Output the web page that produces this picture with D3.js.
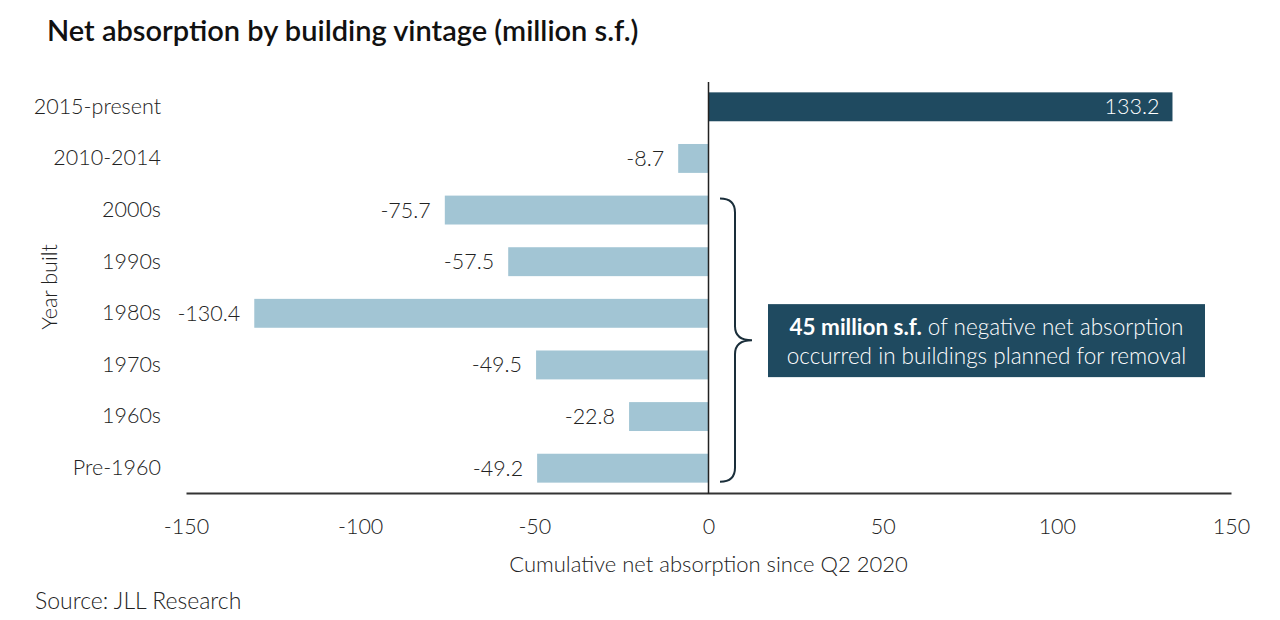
<!DOCTYPE html>
<html>
<head>
<meta charset="utf-8">
<script src="https://cdn.jsdelivr.net/npm/d3@7"></script>
<style>
  body { margin: 0; background: #fff; }
  svg text { font-family: "Lato", "Source Sans Pro", sans-serif; }
</style>
</head>
<body>
<div id="chart"></div>
<script>
// Data
const categories = ["2015-present", "2010-2014", "2000s", "1990s", "1980s", "1970s", "1960s", "Pre-1960"];
const values = [133.2, -8.7, -75.7, -57.5, -130.4, -49.5, -22.8, -49.2];
const xTicks = [-150, -100, -50, 0, 50, 100, 150];
// categories covered by the brace annotation
const braceFrom = "2000s";
const braceTo = "Pre-1960";

const width = 1280, height = 620;
const darkBlue = "#1f4a60";
const lightBlue = "#a2c5d4";
const textColor = "#222";
const fs = "21.5px";

const svg = d3.select("#chart")
  .append("svg")
  .attr("width", width)
  .attr("height", height);

// scales
const x = d3.scaleLinear()
  .domain([-150, 150])
  .range([186, 1231]);

const y = d3.scaleBand()
  .domain(categories)
  .range([81, 494])
  .paddingInner(0.44)
  .paddingOuter(0.22);

// title
svg.append("text")
  .attr("x", 47)
  .attr("y", 41)
  .text("Net absorption by building vintage (million s.f.)")
  .style("fill", "#111")
  .style("font-size", "29px")
  .style("font-weight", 600);

// bars
svg.append("g")
  .selectAll("rect")
  .data(values)
  .enter()
  .append("rect")
  .attr("x", d => x(Math.min(0, d)))
  .attr("y", (d, i) => y(categories[i]))
  .attr("width", d => Math.abs(x(d) - x(0)))
  .attr("height", y.bandwidth())
  .style("fill", d => d > 0 ? darkBlue : lightBlue);

// value labels
svg.append("g")
  .selectAll("text")
  .data(values)
  .enter()
  .append("text")
  .attr("x", d => d > 0 ? x(d) - 13 : x(d) - 14)
  .attr("y", (d, i) => y(categories[i]) + y.bandwidth() / 2)
  .attr("dy", "0.35em")
  .attr("text-anchor", "end")
  .text(d => d.toFixed(1))
  .style("fill", d => d > 0 ? "#fff" : textColor)
  .style("font-size", fs)
  .style("font-weight", 300);

// x axis
const xAxis = svg.append("g")
  .attr("transform", `translate(0, 493)`)
  .call(d3.axisBottom(x).tickValues(xTicks).tickSize(0).tickPadding(26).tickFormat(d => String(d)));
xAxis.select(".domain").attr("stroke", "#333").attr("stroke-width", 2);
xAxis.selectAll("text")
  .style("font-size", fs)
  .style("font-weight", 300)
  .style("fill", textColor);

// y axis (category labels)
const yAxis = svg.append("g")
  .attr("transform", "translate(186, 0)")
  .call(d3.axisLeft(y).tickSize(0).tickPadding(25));
yAxis.select(".domain").remove();
yAxis.selectAll("text")
  .style("font-size", fs)
  .style("font-weight", 300)
  .style("fill", textColor);

// zero line
svg.append("line")
  .attr("x1", x(0))
  .attr("x2", x(0))
  .attr("y1", 82)
  .attr("y2", 494)
  .style("stroke", "#222")
  .style("stroke-width", 1.5);

// axis titles
svg.append("text")
  .attr("text-anchor", "middle")
  .attr("x", x(0))
  .attr("y", 572)
  .text("Cumulative net absorption since Q2 2020")
  .style("fill", textColor)
  .style("font-size", "22px")
  .style("font-weight", 300);

svg.append("text")
  .attr("text-anchor", "middle")
  .attr("transform", "rotate(-90)")
  .attr("x", -287)
  .attr("y", 57)
  .text("Year built")
  .style("fill", textColor)
  .style("font-size", fs)
  .style("font-weight", 300);

// source
svg.append("text")
  .attr("x", 35)
  .attr("y", 609)
  .text("Source: JLL Research")
  .style("fill", textColor)
  .style("font-size", "23px")
  .style("font-weight", 300);

// brace
const bTop = y(braceFrom) + 3;
const bBot = y(braceTo) + y.bandwidth() - 1;
const bMid = (bTop + bBot) / 2;
const x0 = 720, x1 = 735, x2 = 752, r = 14;
svg.append("path")
  .attr("d", `M${x0},${bTop} Q${x1},${bTop} ${x1},${bTop + r} L${x1},${bMid - r} Q${x1},${bMid} ${x2},${bMid}` +
             ` Q${x1},${bMid} ${x1},${bMid + r} L${x1},${bBot - r} Q${x1},${bBot} ${x0},${bBot}`)
  .style("fill", "none")
  .style("stroke", "#1a2e3a")
  .style("stroke-width", 2);

// annotation box
const boxX = 768, boxW = 437, boxH = 73;
const box = svg.append("g");
box.append("rect")
  .attr("x", boxX)
  .attr("y", bMid - 36)
  .attr("width", boxW)
  .attr("height", boxH)
  .style("fill", darkBlue);

const note = box.append("text")
  .attr("text-anchor", "middle")
  .attr("x", boxX + boxW / 2)
  .attr("y", bMid - 5)
  .style("fill", "#fff")
  .style("font-size", "22.5px")
  .style("font-weight", 300);
note.append("tspan").text("45 million s.f.").style("font-weight", "bold");
note.append("tspan").text(" of negative net absorption");
box.append("text")
  .attr("text-anchor", "middle")
  .attr("x", boxX + boxW / 2)
  .attr("y", bMid + 24)
  .text("occurred in buildings planned for removal")
  .style("fill", "#fff")
  .style("font-size", "22.5px")
  .style("font-weight", 300);
</script>
</body>
</html>
